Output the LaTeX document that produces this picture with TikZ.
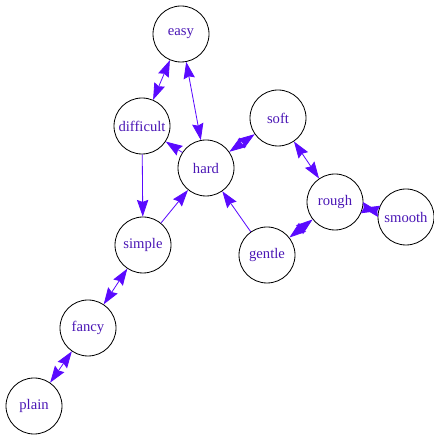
\documentclass[tikz,border=0pt]{standalone}
\usepackage{fontspec}
\setmainfont{Liberation Serif}
\usepackage{tikz}
\usetikzlibrary{arrows.meta}
\definecolor{Edge}{HTML}{5A0AFF}
\definecolor{Label}{HTML}{4A16B5}

\begin{document}
\begin{tikzpicture}[font=\fontsize{12.5}{14}\selectfont,
  vertex/.style={draw,circle,line width=0.7pt,minimum size=1.68cm,inner sep=0pt,text=Label},
  link/.style={draw=Edge,line width=0.7pt,-{Stealth[length=5mm,width=3.4mm,inset=0.6mm]}},
  twoway/.style={link,{Stealth[length=5mm,width=3.4mm,inset=0.6mm]}-{Stealth[length=5mm,width=3.4mm,inset=0.6mm]}}]
  \useasboundingbox (0,0) rectangle (12.99,13.05);
  % words
  \node[vertex] (easy) at (5.43,12.03) {easy};
  \node[vertex] (difficult) at (4.26,9.27) {difficult};
  \node[vertex] (hard) at (6.18,8.01) {hard};
  \node[vertex] (soft) at (8.34,9.51) {soft};
  \node[vertex] (rough) at (10.05,6.99) {rough};
  \node[vertex] (smooth) at (12.18,6.54) {smooth};
  \node[vertex] (gentle) at (8.01,5.40) {gentle};
  \node[vertex] (simple) at (4.29,5.70) {simple};
  \node[vertex] (fancy) at (2.64,3.21) {fancy};
  \node[vertex] (plain) at (1.02,0.87) {plain};
  % relations
  \draw[twoway] (easy) -- (difficult);
  \draw[twoway] (easy) -- (hard);
  \draw[link] (hard) -- (difficult);
  \draw[link] (difficult) -- (simple);
  \draw[link] (simple) -- (hard);
  \draw[link] (gentle) -- (hard);
  \draw[twoway] (hard) -- (soft);
  \draw[twoway] (soft) -- (rough);
  \draw[twoway] (rough) -- (gentle);
  \draw[twoway] (rough) -- (smooth);
  \draw[twoway] (simple) -- (fancy);
  \draw[twoway] (fancy) -- (plain);
\end{tikzpicture}
\end{document}
